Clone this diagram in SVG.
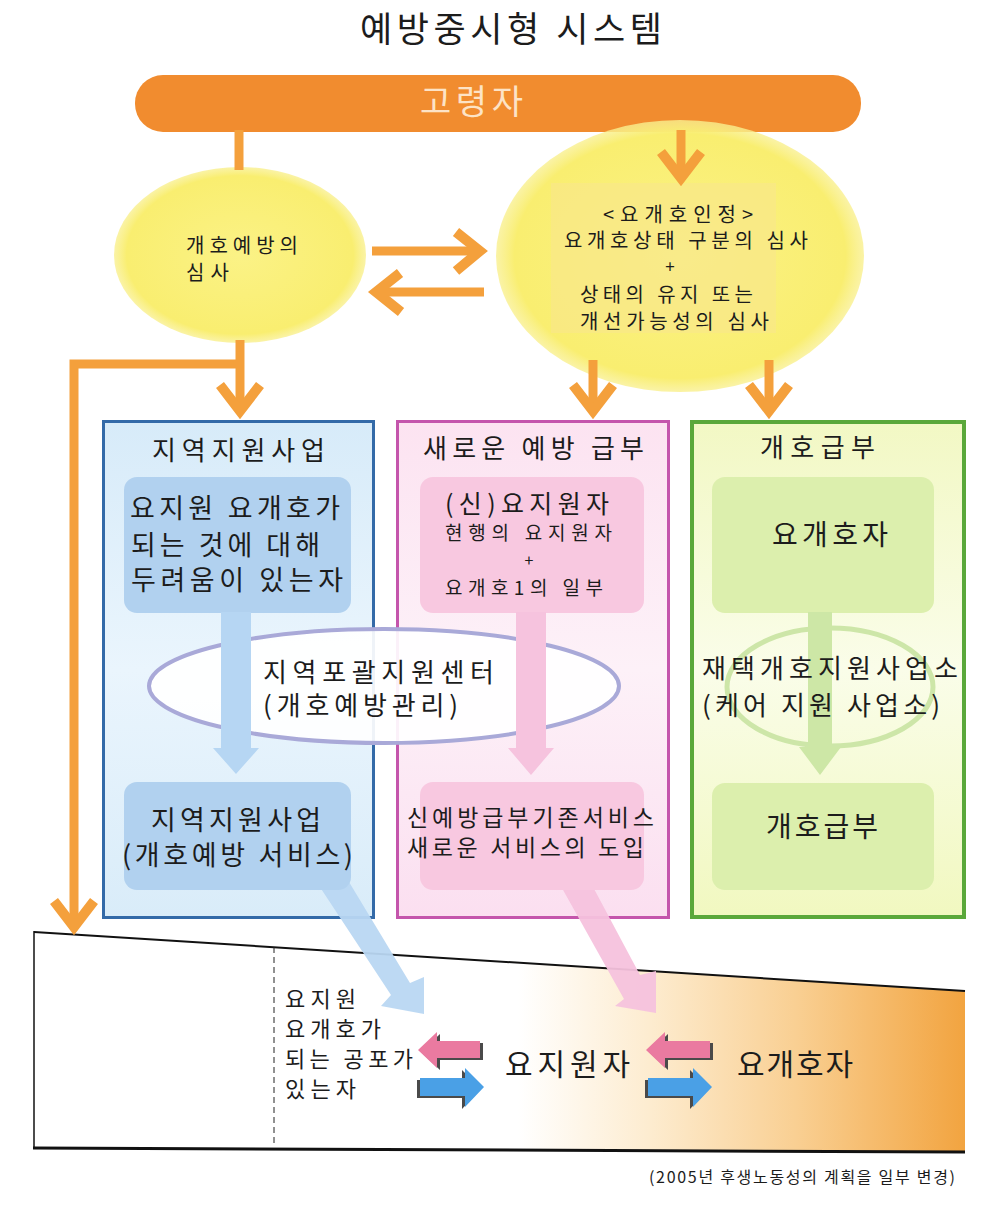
<svg xmlns="http://www.w3.org/2000/svg" width="999" height="1205" viewBox="0 0 999 1205">
<style>
.t{font-family:"Noto Sans CJK KR","Noto Sans CJK SC","Noto Sans",sans-serif;fill:#1c1c1c}
.or{fill:none;stroke:#f4a03c;stroke-width:9}
.chev{fill:none;stroke:#f4a03c;stroke-width:10;stroke-linejoin:miter;stroke-miterlimit:8}
.shadow{fill:#4a4a4a}
</style>
<defs>
<linearGradient id="gBlue" x1="0" y1="0" x2="0" y2="1">
<stop offset="0" stop-color="#d7ebf9"/><stop offset="0.5" stop-color="#eaf5fd"/><stop offset="1" stop-color="#d9ecf9"/>
</linearGradient>
<linearGradient id="gPink" x1="0" y1="0" x2="0" y2="1">
<stop offset="0" stop-color="#fce3f1"/><stop offset="0.5" stop-color="#fdf1f8"/><stop offset="1" stop-color="#fbdff0"/>
</linearGradient>
<linearGradient id="gGreen" x1="0" y1="0" x2="0" y2="1">
<stop offset="0" stop-color="#f2f8c4"/><stop offset="0.5" stop-color="#fafde9"/><stop offset="1" stop-color="#f1f8c0"/>
</linearGradient>
<linearGradient id="gBottom" gradientUnits="userSpaceOnUse" x1="34" y1="0" x2="965" y2="0">
<stop offset="0" stop-color="#ffffff"/><stop offset="0.52" stop-color="#ffffff"/><stop offset="0.66" stop-color="#fdecd0"/><stop offset="0.82" stop-color="#f9cf92"/><stop offset="1" stop-color="#f2a440"/>
</linearGradient>
<radialGradient id="gYel" cx="0.5" cy="0.5" r="0.5">
<stop offset="0" stop-color="#fbf286"/><stop offset="0.9" stop-color="#f9ee70"/><stop offset="1" stop-color="#f9f090" stop-opacity="0.8"/>
</radialGradient>
</defs>

<text class="t" x="360" y="42" font-size="35" textLength="302" lengthAdjust="spacing">예방중시형 시스템</text>

<g id="bottom-area">
<polygon points="34,932 965,991 965,1152 34,1148" fill="url(#gBottom)"/>
<line x1="34" y1="932" x2="965" y2="991" stroke="#111" stroke-width="2"/>
<line x1="34" y1="931" x2="34" y2="1149" stroke="#111" stroke-width="1.5"/>
<line x1="33" y1="1148" x2="965" y2="1152" stroke="#111" stroke-width="3"/>
<line x1="274" y1="947" x2="274" y2="1147" stroke="#222" stroke-width="1" stroke-dasharray="6,4"/>
</g>

<g id="node-elderly">
<rect x="135" y="75" width="726" height="57" rx="28" fill="#f18c2f"/>
<text class="t" x="420" y="114" font-size="34" textLength="103" lengthAdjust="spacing" style="fill:#fde3c6">고령자</text>
</g>

<g id="node-prevention-review">
<ellipse cx="240" cy="255" rx="126" ry="88" fill="url(#gYel)"/>
<text class="t" x="186" y="253" font-size="20" textLength="112" lengthAdjust="spacing">개호예방의</text>
<text class="t" x="186" y="280" font-size="20" textLength="43" lengthAdjust="spacing">심사</text>
</g>

<g id="node-care-certification">
<ellipse cx="680" cy="256" rx="184" ry="136" fill="url(#gYel)"/>
<rect x="551" y="183" width="225" height="150" fill="#f8e68c" opacity="0.6"/>
<text class="t" x="603" y="222" font-size="20" textLength="150" lengthAdjust="spacing">&lt;요개호인정&gt;</text>
<text class="t" x="564" y="248" font-size="20" textLength="244" lengthAdjust="spacing">요개호상태 구분의 심사</text>
<text class="t" x="670" y="273" font-size="17" text-anchor="middle">+</text>
<text class="t" x="580" y="302" font-size="20" textLength="173" lengthAdjust="spacing">상태의 유지 또는</text>
<text class="t" x="580" y="329" font-size="20" textLength="189" lengthAdjust="spacing">개선가능성의 심사</text>
</g>

<g id="node-regional-support">
<rect x="103.5" y="421.5" width="270" height="496" fill="url(#gBlue)" stroke="#336aa8" stroke-width="3"/>
<text class="t" x="152" y="460" font-size="26" textLength="173" lengthAdjust="spacing">지역지원사업</text>
</g>
<g id="node-new-prevention">
<rect x="397.5" y="421.5" width="271" height="496" fill="url(#gPink)" stroke="#c455ac" stroke-width="3"/>
<text class="t" x="423" y="458" font-size="26" textLength="221" lengthAdjust="spacing">새로운 예방 급부</text>
</g>
<g id="node-care-benefit">
<rect x="692" y="422" width="272" height="495" fill="url(#gGreen)" stroke="#5aa83a" stroke-width="4"/>
<text class="t" x="760" y="457" font-size="26" textLength="115" lengthAdjust="spacing">개호급부</text>
</g>

<g id="node-center">
<ellipse cx="384" cy="686" rx="235" ry="57" fill="#ffffff" fill-opacity="0.92" stroke="#a9a9d8" stroke-width="4"/>
</g>
<g id="node-home-care-ellipse">
<ellipse cx="830" cy="687" rx="103" ry="59" fill="none" stroke="#cde6a8" stroke-width="5"/>
</g>

<g id="node-blue-upper">
<rect x="124" y="477" width="227" height="136" rx="13" fill="#b1d1ef"/>
<text class="t" x="130" y="518" font-size="27" textLength="210" lengthAdjust="spacing">요지원 요개호가</text>
<text class="t" x="131" y="555" font-size="27" textLength="189" lengthAdjust="spacing">되는 것에 대해</text>
<text class="t" x="131" y="590" font-size="27" textLength="212" lengthAdjust="spacing">두려움이 있는자</text>
</g>
<g id="node-pink-upper">
<rect x="420" y="477" width="224" height="136" rx="13" fill="#f8c8e0"/>
<text class="t" x="445" y="513" font-size="25" textLength="164" lengthAdjust="spacing">(신)요지원자</text>
<text class="t" x="445" y="540" font-size="19" textLength="167" lengthAdjust="spacing">현행의 요지원자</text>
<text class="t" x="529" y="566" font-size="16" text-anchor="middle">+</text>
<text class="t" x="445" y="595" font-size="19" textLength="158" lengthAdjust="spacing">요개호1의 일부</text>
</g>
<g id="node-green-upper">
<rect x="712" y="477" width="222" height="136" rx="13" fill="#dcefad"/>
<text class="t" x="772" y="545" font-size="28" textLength="116" lengthAdjust="spacing">요개호자</text>
</g>

<g id="connectors">
<line class="or" x1="239" y1="130" x2="239" y2="170"/>
<line class="or" x1="681" y1="130" x2="681" y2="172"/>
<polyline class="chev" points="661,152 681,178 701,152"/>
<line class="or" x1="240" y1="340" x2="240" y2="406"/>
<polyline class="chev" points="220,385 240,411 260,385"/>
<polyline class="or" points="240,364 74,364 74,920" stroke-linejoin="miter"/>
<polyline class="chev" points="54,901 74,927 94,901"/>
<line class="or" x1="593" y1="360" x2="593" y2="405"/>
<polyline class="chev" points="573,385 593,411 613,385"/>
<line class="or" x1="769" y1="360" x2="769" y2="405"/>
<polyline class="chev" points="749,385 769,411 789,385"/>
<line class="or" x1="372" y1="251" x2="476" y2="251" stroke-width="8"/>
<polyline class="chev" points="456,232 480,251 456,271" stroke-width="9"/>
<line class="or" x1="380" y1="292" x2="484" y2="292" stroke-width="8"/>
<polyline class="chev" points="400,273 376,292 401,312" stroke-width="9"/>
<polygon points="221,612 251,612 251,748 259,748 236,774 213,748 221,748" fill="#b6d6f3"/>
<polygon points="516,612 546,612 546,748 554,748 531,775 508,748 516,748" fill="#f6c3de"/>
<polygon points="808,612 832,612 832,747 841,747 820,775 799,747 808,747" fill="#cde7a6"/>
<polygon points="310,872 343,872 410,983 424,977 424,1014 381,1006 391,995" fill="#b9d7f2" opacity="0.95"/>
<polygon points="553,872 585,872 640,975 656,971 656,1013 615,1006 624,999" fill="#f6c2dd" opacity="0.95"/>
<polygon class="shadow" points="421,1052 440,1034 440,1043 483,1043 483,1060 440,1060 440,1070"/>
<polygon points="418,1050 437,1032 437,1041 480,1041 480,1058 437,1058 437,1068" fill="#ea7aa0"/>
<polygon class="shadow" points="417,1080 462,1080 462,1070 481,1089 462,1109 462,1098 417,1098"/>
<polygon points="420,1078 465,1078 465,1068 484,1087 465,1107 465,1096 420,1096" fill="#4aa0e6"/>
<polygon class="shadow" points="649,1052 668,1034 668,1043 713,1043 713,1060 668,1060 668,1070"/>
<polygon points="646,1050 665,1032 665,1041 710,1041 710,1058 665,1058 665,1068" fill="#ea7aa0"/>
<polygon class="shadow" points="645,1080 690,1080 690,1070 709,1089 690,1109 690,1098 645,1098"/>
<polygon points="648,1078 693,1078 693,1068 712,1087 693,1107 693,1096 648,1096" fill="#4aa0e6"/>
</g>

<g id="node-center-text">
<text class="t" x="263" y="682" font-size="26" textLength="231" lengthAdjust="spacing">지역포괄지원센터</text>
<text class="t" x="263" y="715" font-size="26" textLength="195" lengthAdjust="spacing">(개호예방관리)</text>
</g>
<g id="node-home-care-text">
<text class="t" x="702" y="678" font-size="26" textLength="256" lengthAdjust="spacing">재택개호지원사업소</text>
<text class="t" x="702" y="715" font-size="26" textLength="238" lengthAdjust="spacing">(케어 지원 사업소)</text>
</g>

<g id="node-blue-lower">
<rect x="124" y="782" width="227" height="108" rx="13" fill="#b1d1ef"/>
<text class="t" x="151" y="830" font-size="27" textLength="170" lengthAdjust="spacing">지역지원사업</text>
<text class="t" x="122" y="865" font-size="27" textLength="231" lengthAdjust="spacing">(개호예방 서비스)</text>
</g>
<g id="node-pink-lower">
<rect x="420" y="782" width="224" height="108" rx="13" fill="#f8c8e0"/>
<text class="t" x="407" y="826" font-size="23" textLength="247" lengthAdjust="spacing">신예방급부기존서비스</text>
<text class="t" x="407" y="856" font-size="23" textLength="237" lengthAdjust="spacing">새로운 서비스의 도입</text>
</g>
<g id="node-green-lower">
<rect x="712" y="783" width="222" height="107" rx="13" fill="#dcefad"/>
<text class="t" x="766" y="837" font-size="28" textLength="112" lengthAdjust="spacing">개호급부</text>
</g>

<g id="node-fear">
<text class="t" x="285" y="1007" font-size="22" textLength="71" lengthAdjust="spacing">요지원</text>
<text class="t" x="285" y="1037" font-size="22" textLength="96" lengthAdjust="spacing">요개호가</text>
<text class="t" x="285" y="1067" font-size="22" textLength="128" lengthAdjust="spacing">되는 공포가</text>
<text class="t" x="285" y="1097" font-size="22" textLength="71" lengthAdjust="spacing">있는자</text>
</g>
<g id="node-support-needed">
<text class="t" x="505" y="1075" font-size="30" textLength="125" lengthAdjust="spacing">요지원자</text>
</g>
<g id="node-care-needed">
<text class="t" x="737" y="1075" font-size="30" textLength="116" lengthAdjust="spacing">요개호자</text>
</g>
<text class="t" x="649" y="1183" font-size="16" textLength="306" lengthAdjust="spacing">(2005년 후생노동성의 계획을 일부 변경)</text>
</svg>
